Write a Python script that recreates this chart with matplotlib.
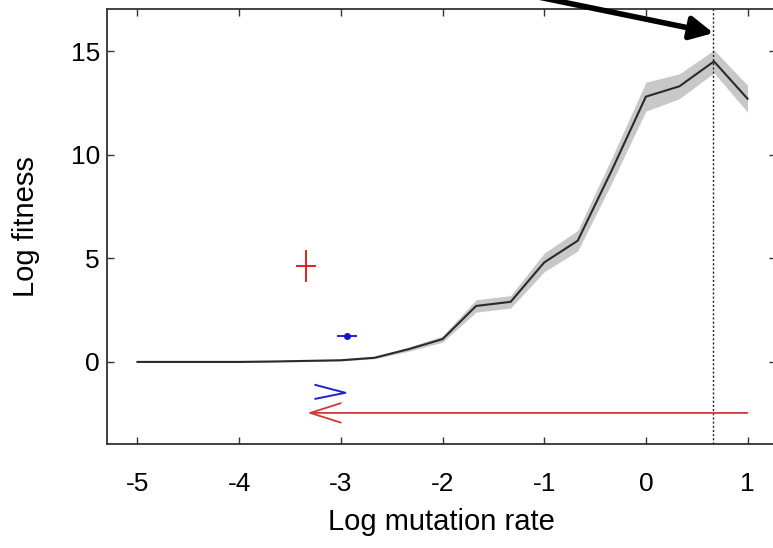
import numpy as np
import matplotlib
matplotlib.use("Agg")
import matplotlib.pyplot as plt

plt.rcParams['font.family'] = ['Liberation Sans', 'DejaVu Sans']
plt.rcParams['axes.unicode_minus'] = False

# mean log fitness vs log mutation rate, with shaded spread
mu = [-5, -4.67, -4.33, -4, -3.67, -3.33, -3, -2.67, -2.33, -2,
      -1.67, -1.33, -1, -0.67, -0.33, 0, 0.33, 0.67, 1]
fit = [0, 0, 0, 0, 0.02, 0.05, 0.08, 0.2, 0.62, 1.1,
       2.7, 2.9, 4.8, 5.85, 9.3, 12.8, 13.3, 14.5, 12.7]
spread = [0.02, 0.02, 0.02, 0.02, 0.02, 0.03, 0.03, 0.05, 0.1, 0.15,
          0.3, 0.3, 0.45, 0.5, 0.6, 0.7, 0.6, 0.55, 0.65]

# the two single estimates with error bars
red_pt = (-3.34, 4.63, 0.1, 0.75)     # x, y, xerr, yerr
blue_pt = (-2.94, 1.25, 0.1, 0.0)

optimum = 0.665
red_arrow = (1.0, -3.33, -2.46)   # from x, to x, at y
chevron_x = [-3.25, -2.955, -3.25]
chevron_y = [-1.11, -1.49, -1.78]

fig = plt.figure(figsize=(7.73, 5.48), dpi=100)
ax = fig.add_axes([0.1384, 0.1898, 0.8655, 0.7938])

lo = np.array(fit) - np.array(spread)
hi = np.array(fit) + np.array(spread)
ax.fill_between(mu, lo, hi, color='#c8c8c8', lw=0)
ax.plot(mu, fit, color='#2a2a2a', lw=1.5)

ax.errorbar(red_pt[0], red_pt[1], xerr=red_pt[2], yerr=red_pt[3],
            color='#e01010', lw=1.3, capsize=0)
ax.errorbar(blue_pt[0], blue_pt[1], xerr=blue_pt[2], fmt='o', ms=4,
            color='#1515c8', lw=1.3, capsize=0)

ax.axvline(optimum, color='#222222', lw=1.0, ls=(0, (1.5, 1.5)))

ax.annotate('', xy=(red_arrow[1], red_arrow[2]), xytext=(red_arrow[0], red_arrow[2]),
            arrowprops=dict(arrowstyle='->,head_length=1.1,head_width=0.35',
                            mutation_scale=20, color='#cc3a3a', lw=1.3,
                            shrinkA=0, shrinkB=0))
ax.plot(chevron_x, chevron_y, color='#2222cc', lw=1.4)

# big black arrow pointing at the optimum, coming from outside the axes
ax.annotate('', xy=(optimum, 15.87), xycoords='data',
            xytext=(480, 548 + 15), textcoords='figure pixels',
            annotation_clip=False,
            arrowprops=dict(arrowstyle='-|>,head_length=0.55,head_width=0.28',
                            mutation_scale=25, color='black', lw=4,
                            shrinkA=0, shrinkB=0))

ax.set_xlim(-5.3, 1.28)
ax.set_ylim(-3.96, 17.03)
ax.set_xticks([-5, -4, -3, -2, -1, 0, 1])
ax.set_yticks([0, 5, 10, 15])
ax.tick_params(direction='in', top=True, right=True, length=5, width=1,
               labelsize=19, color='#333333')
ax.tick_params(axis='x', pad=20)
ax.tick_params(axis='y', pad=5)
for s in ax.spines.values():
    s.set_color('#333333')
    s.set_linewidth(1.3)

ax.set_xlabel('Log mutation rate', fontsize=21, labelpad=9)
ax.set_ylabel('Log fitness', fontsize=21, labelpad=22)

fig.savefig('out.png', dpi=100)
